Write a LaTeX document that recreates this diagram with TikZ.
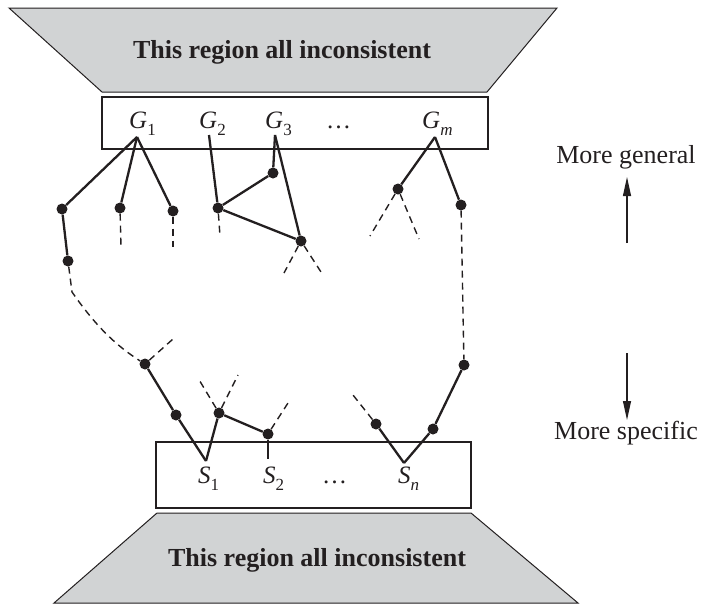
\documentclass[tikz,border=0pt]{standalone}
\usepackage{fontspec}
\setmainfont{Liberation Serif}
\usetikzlibrary{arrows.meta}
\definecolor{ink}{RGB}{35,31,32}
\definecolor{fillgray}{RGB}{209,211,212}
\newcommand\hlab[2]{\textit{#1}\raisebox{-0.3em}{\fontsize{17}{17}\selectfont #2}}
\begin{document}
\begin{tikzpicture}[x=1pt,y=-1pt,
  dot/.style={circle,fill=ink,inner sep=0pt,minimum size=11pt},
  solidedge/.style={draw=ink,line width=2.3pt},
  dashedge/.style={draw=ink,line width=1.4pt,dash pattern=on 7pt off 5pt},
  regionshape/.style={draw=ink,line width=1pt,fill=fillgray},
  setbox/.style={draw=ink,line width=1.2pt},
  lab/.style={font=\fontsize{25}{25}\selectfont,text=ink,inner sep=0pt,anchor=base west},
  bigtext/.style={font=\fontsize{26}{26}\selectfont\bfseries,text=ink,inner sep=0pt,anchor=base},
  sidetext/.style={font=\fontsize{26}{26}\selectfont,text=ink,inner sep=0pt},
  dirarrow/.style={draw=ink,line width=1.1pt,-{Triangle[length=19pt,width=8pt]}}
]
\useasboundingbox (0,0) rectangle (701,605);

% inconsistent regions
\draw[regionshape] (9,8) -- (557,8) -- (487,92) -- (102,92) -- cycle;
\node[bigtext] (topreg) at (282,58) {This region all inconsistent};
\draw[regionshape] (157,513) -- (471,513) -- (578,603) -- (54,603) -- cycle;
\node[bigtext] (botreg) at (317,566) {This region all inconsistent};

% boundary sets
\draw[setbox] (102,97) rectangle (488,149);
\draw[setbox] (156,442) rectangle (471,508);

\node[lab] (G1) at (129,128) {\hlab{G}{1}};
\node[lab] (G2) at (199,128) {\hlab{G}{2}};
\node[lab] (G3) at (265,128) {\hlab{G}{3}};
\node[lab] (Gd) at (326,128) {\ldots};
\node[lab] (Gm) at (422,128) {\hlab{G}{\textit{m}}};

\node[lab] (S1) at (198,483) {\hlab{S}{1}};
\node[lab] (S2) at (263,483) {\hlab{S}{2}};
\node[lab] (Sd) at (322,483) {\ldots};
\node[lab] (Sn) at (398,483) {\hlab{S}{\textit{n}}};

\coordinate (G1a) at (137,137);
\coordinate (G2a) at (209,135);
\coordinate (G3a) at (275,135);
\coordinate (Gma) at (435,137);
\coordinate (S1a) at (206,461);
\coordinate (S2a) at (268,459);
\coordinate (Sna) at (404,463);

% hypothesis nodes
\node[dot] (a1) at (62,209) {};
\node[dot] (a2) at (120,208) {};
\node[dot] (a3) at (173,211) {};
\node[dot] (a4) at (68,261) {};
\node[dot] (b1) at (218,208) {};
\node[dot] (e1) at (273,173) {};
\node[dot] (e2) at (301,241) {};
\node[dot] (f1) at (398,189) {};
\node[dot] (f2) at (461,205) {};
\node[dot] (f3) at (464,365) {};
\node[dot] (c1) at (145,364) {};
\node[dot] (c2) at (176,415) {};
\node[dot] (d1) at (219,413) {};
\node[dot] (d2) at (268,434) {};
\node[dot] (g1) at (376,424) {};
\node[dot] (g2) at (433,429) {};

% free ends of dashed lines
\coordinate (x2) at (121,247);
\coordinate (x3) at (173,247);
\coordinate (xb) at (220,236);
\coordinate (xe1) at (284,273);
\coordinate (xe2) at (321,272);
\coordinate (xf1) at (370,236);
\coordinate (xf2) at (419,239);
\coordinate (xc) at (173,339);
\coordinate (xd1) at (198,378);
\coordinate (xd2) at (238,375);
\coordinate (xdd) at (288,403);
\coordinate (xg) at (353,395);
\coordinate (bend) at (72,292);

% solid edges
\draw[solidedge] (G1a) -- (a1);
\draw[solidedge] (G1a) -- (a2);
\draw[solidedge] (G1a) -- (a3);
\draw[solidedge] (a1) -- (a4);
\draw[solidedge] (G2a) -- (b1);
\draw[solidedge] (b1) -- (e1);
\draw[solidedge] (b1) -- (e2);
\draw[solidedge] (G3a) -- (e1);
\draw[solidedge] (G3a) -- (e2);
\draw[solidedge] (Gma) -- (f1);
\draw[solidedge] (Gma) -- (f2);
\draw[solidedge] (c1) -- (c2);
\draw[solidedge] (c2) -- (S1a);
\draw[solidedge] (S1a) -- (d1);
\draw[solidedge] (d1) -- (d2);
\draw[solidedge] (d2) -- (S2a);
\draw[solidedge] (f3) -- (g2);
\draw[solidedge] (g2) -- (Sna);
\draw[solidedge] (g1) -- (Sna);

% dashed edges
\draw[dashedge] (a2) -- (x2);
\draw[dashedge] (a3) -- (x3);
\draw[dashedge] (b1) -- (xb);
\draw[dashedge] (e2) -- (xe1);
\draw[dashedge] (e2) -- (xe2);
\draw[dashedge] (f1) -- (xf1);
\draw[dashedge] (f1) -- (xf2);
\draw[dashedge] (f2) -- (f3);
\draw[dashedge] (a4) -- (bend) .. controls (95,325) and (115,345) .. (c1);
\draw[dashedge] (c1) -- (xc);
\draw[dashedge] (d1) -- (xd1);
\draw[dashedge] (d1) -- (xd2);
\draw[dashedge] (d2) -- (xdd);
\draw[dashedge] (g1) -- (xg);

% direction labels
\node[sidetext] (gen) at (626,157) {More general};
\node[sidetext] (spec) at (626,433) {More specific};
\coordinate (ua) at (627,243);
\coordinate (ub) at (627,177);
\coordinate (da) at (627,353);
\coordinate (db) at (627,420);
\draw[dirarrow] (ua) -- (ub);
\draw[dirarrow] (da) -- (db);
\end{tikzpicture}
\end{document}
